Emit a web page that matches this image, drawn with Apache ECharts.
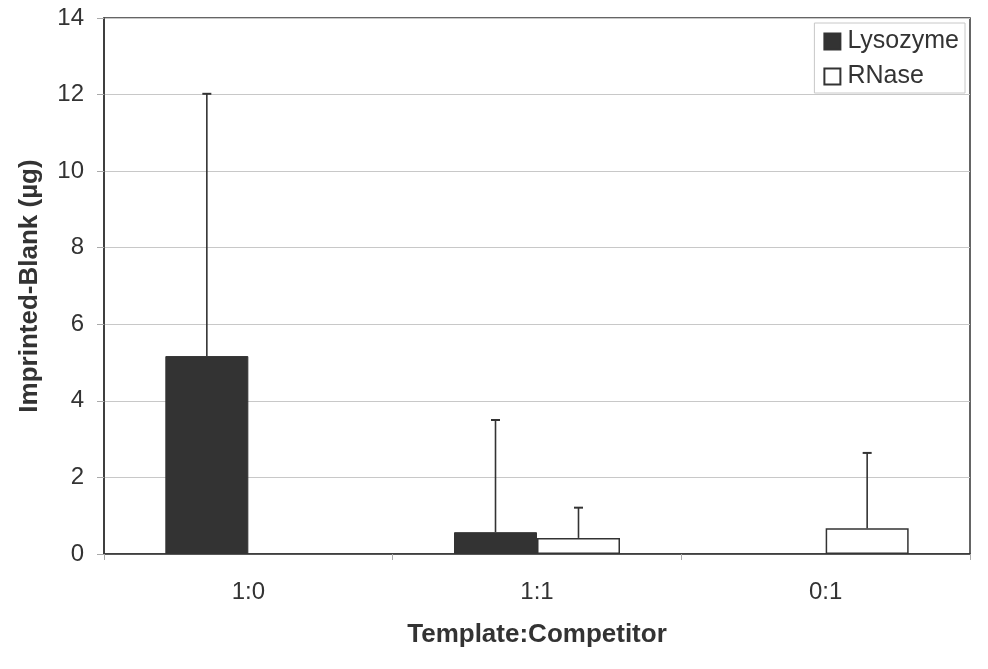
<!DOCTYPE html>
<html>
<head>
<meta charset="utf-8">
<script src="https://cdn.jsdelivr.net/npm/echarts@6/dist/echarts.min.js"></script>
<style>html,body{margin:0;padding:0;background:#fff;}#c{width:988px;height:669px;}</style>
</head>
<body>
<div id="c"></div>
<script>
const categories = ['1:0', '1:1', '0:1'];
const lysozyme = [5.17, 0.57, '-'];
const lysozymeErr = [6.85, 2.93, null];
const rnase = ['-', 0.42, 0.67];
const rnaseErr = [null, 0.79, 1.97];
const yTicks = [0, 2, 4, 6, 8, 10, 12, 14];

const FONT = 'Liberation Sans, Arial, sans-serif';
const DARK = '#333333';

function errData(vals, errs) {
  const out = [];
  vals.forEach((v, i) => {
    if (v !== '-' && errs[i] != null) out.push([i, v, v + errs[i]]);
  });
  return out;
}

function makeErr(sign) {
  return function (params, api) {
    const catW = api.size([1, 0])[0];
    const off = sign * catW * 0.14375;
    const lo = api.coord([api.value(0), api.value(1)]);
    const hi = api.coord([api.value(0), api.value(2)]);
    const x = lo[0] + off;
    const style = { stroke: DARK, lineWidth: 1.6 };
    return {
      type: 'group',
      children: [
        { type: 'line', shape: { x1: x, y1: lo[1], x2: x, y2: hi[1] }, style: style },
        { type: 'line', shape: { x1: x - 4.5, y1: hi[1], x2: x + 4.5, y2: hi[1] }, style: { stroke: DARK, lineWidth: 2 } }
      ]
    };
  };
}

const chart = echarts.init(document.getElementById('c'), null, { renderer: 'canvas' });
chart.setOption({
  animation: false,
  backgroundColor: '#fff',
  textStyle: { fontFamily: FONT },
  grid: { left: 104, right: 18, top: 18, bottom: 115, show: true, borderColor: DARK, borderWidth: 1.5, backgroundColor: 'transparent' },
  legend: {
    orient: 'vertical',
    right: 23, top: 23,
    data: ['Lysozyme', 'RNase'],
    itemWidth: 16, itemHeight: 16,
    itemGap: 10,
    padding: [6, 6, 4, 9],
    borderColor: '#c8c8c8', borderWidth: 1,
    textStyle: { fontFamily: FONT, fontSize: 25, color: DARK, lineHeight: 24, padding: [0, 0, 0, 2] },
    icon: 'rect'
  },
  xAxis: {
    type: 'category',
    data: categories,
    boundaryGap: true,
    name: 'Template:Competitor',
    nameLocation: 'middle',
    nameGap: 68,
    nameTextStyle: { fontFamily: FONT, fontSize: 26, fontWeight: 'bold', color: DARK },
    axisLine: { lineStyle: { color: DARK, width: 1.5 } },
    axisTick: { show: true, alignWithLabel: false, length: 6, lineStyle: { color: '#aaaaaa' } },
    axisLabel: { fontFamily: FONT, fontSize: 24, color: DARK, margin: 26 },
    splitLine: { show: false }
  },
  yAxis: {
    type: 'value',
    min: 0, max: 14, interval: 2,
    name: 'Imprinted-Blank (µg)',
    nameLocation: 'middle',
    nameGap: 61,
    nameTextStyle: { fontFamily: FONT, fontSize: 26, fontWeight: 'bold', color: DARK },
    axisLine: { show: true, lineStyle: { color: DARK, width: 1.5 } },
    axisTick: { show: true, length: 7, lineStyle: { color: '#aaaaaa' } },
    axisLabel: { fontFamily: FONT, fontSize: 24, color: DARK, margin: 20,
      formatter: function (v) { return yTicks.indexOf(v) >= 0 ? String(v) : ''; } },
    splitLine: { show: true, lineStyle: { color: '#c8c8c8', width: 1 } }
  },
  series: [
    {
      name: 'Lysozyme', type: 'bar', data: lysozyme,
      barWidth: 83, barGap: '0%',
      itemStyle: { color: DARK, borderColor: DARK, borderWidth: 1 }
    },
    {
      name: 'RNase', type: 'bar', data: rnase,
      barWidth: 83, barGap: '0%',
      itemStyle: { color: '#ffffff', borderColor: DARK, borderWidth: 1.5 }
    },
    {
      name: 'LysErr', type: 'custom', data: errData(lysozyme, lysozymeErr),
      encode: { x: 0, y: [1, 2] }, renderItem: makeErr(-1), z: 5
    },
    {
      name: 'RNaseErr', type: 'custom', data: errData(rnase, rnaseErr),
      encode: { x: 0, y: [1, 2] }, renderItem: makeErr(1), z: 5
    }
  ]
});
</script>
</body>
</html>
